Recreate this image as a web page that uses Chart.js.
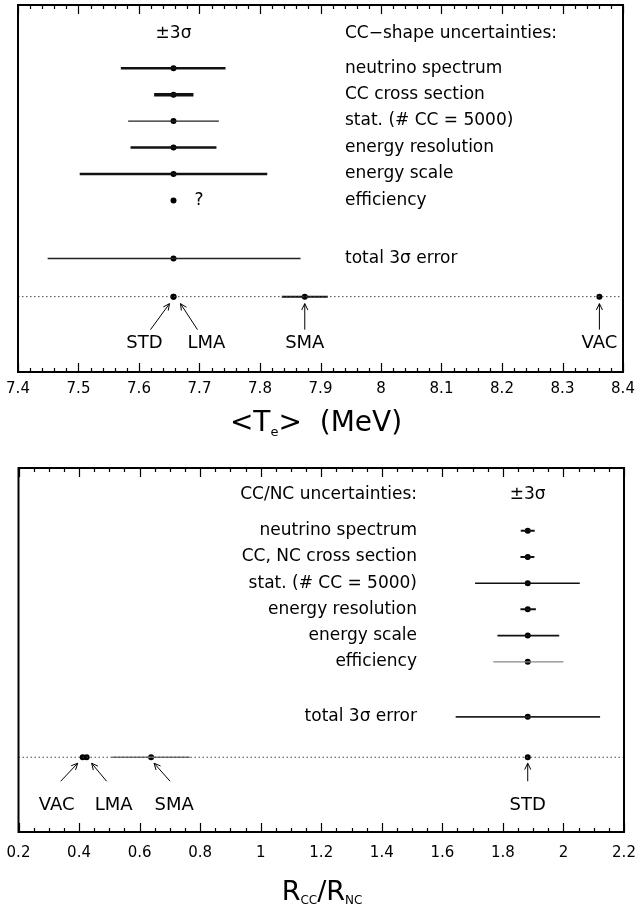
<!DOCTYPE html>
<html>
<head>
<meta charset="utf-8">
<script src="https://cdn.jsdelivr.net/npm/chart.js@4/dist/chart.umd.min.js"></script>
<style>
  body { margin: 0; background: #fff; }
  canvas { display: block; }
</style>
</head>
<body>
<canvas id="te-chart" width="636" height="456"></canvas>
<canvas id="r-chart" width="636" height="456"></canvas>
<script>
// 上图：<Te> 的各项误差
const teRows = ['neutrino spectrum', 'CC cross section', 'stat. (# CC = 5000)', 'energy resolution', 'energy scale', 'efficiency'];
const teCenter = 7.657;
const teLow = [7.570, 7.625, 7.582, 7.586, 7.502, null];
const teHigh = [7.743, 7.690, 7.732, 7.728, 7.812, null];
const teTotal = [7.449, 7.867];
const teModels = ['STD', 'LMA', 'SMA', 'VAC'];
const teModelValues = [7.657, 7.657, 7.874, 8.361];
const teModelLow = [null, null, 7.836, null];
const teModelHigh = [null, null, 7.912, null];
const teTicks = [7.4, 7.5, 7.6, 7.7, 7.8, 7.9, 8.0, 8.1, 8.2, 8.3, 8.4];

// 下图：R_CC / R_NC 的各项误差
const rRows = ['neutrino spectrum', 'CC, NC cross section', 'stat. (# CC = 5000)', 'energy resolution', 'energy scale', 'efficiency'];
const rCenter = 1.882;
const rLow = [1.859, 1.858, 1.708, 1.858, 1.782, 1.768];
const rHigh = [1.905, 1.904, 2.054, 1.909, 1.986, 2.000];
const rTotal = [1.644, 2.121];
const rModels = ['VAC', 'LMA', 'SMA', 'STD'];
const rModelValues = [0.412, 0.425, 0.638, 1.882];
const rModelLow = [null, null, 0.508, null];
const rModelHigh = [null, null, 0.766, null];
const rTicks = [0.2, 0.4, 0.6, 0.8, 1.0, 1.2, 1.4, 1.6, 1.8, 2.0, 2.2];

// 线宽/颜色（样式）
const teBarWidths = [2.5, 3.5, 1.2, 2.5, 2.5, 0];
const teBarColors = ['#111', '#111', '#222', '#111', '#111', '#111'];
const rBarWidths = [2, 2, 1.5, 2, 1.6, 1.2];
const rBarColors = ['#111', '#111', '#111', '#111', '#111', '#888'];

const FONT = '"DejaVu Sans", sans-serif';
const ROW_MODEL = 9.64;

// 画带下标的文字
function drawRich(ctx, parts, cx, cy) {
  let total = 0;
  parts.forEach(p => {
    ctx.font = p.size + 'px ' + FONT;
    p.w = ctx.measureText(p.t).width;
    total += p.w;
  });
  let x = cx - total / 2;
  ctx.textAlign = 'left';
  ctx.textBaseline = 'middle';
  parts.forEach(p => {
    ctx.font = p.size + 'px ' + FONT;
    ctx.fillText(p.t, x, cy + (p.dy || 0));
    x += p.w;
  });
}

function arrow(ctx, x1, y1, x2, y2) {
  ctx.beginPath();
  ctx.moveTo(x1, y1);
  ctx.lineTo(x2, y2);
  const a = Math.atan2(y2 - y1, x2 - x1);
  ctx.moveTo(x2, y2);
  ctx.lineTo(x2 - 7 * Math.cos(a - 0.45), y2 - 7 * Math.sin(a - 0.45));
  ctx.moveTo(x2, y2);
  ctx.lineTo(x2 - 7 * Math.cos(a + 0.45), y2 - 7 * Math.sin(a + 0.45));
  ctx.stroke();
}

// 边框、刻度、文字标注
const decorPlugin = {
  id: 'decor',
  afterDraw(chart) {
    const c = chart.options.plugins.decor;
    const ctx = chart.ctx;
    const xs = chart.scales.x, ys = chart.scales.y;
    const a = chart.chartArea;
    ctx.save();
    ctx.strokeStyle = '#000';
    ctx.fillStyle = '#000';

    // 刻度（上下两边都画）
    ctx.lineWidth = 1.2;
    const n = Math.round((xs.max - xs.min) / c.minorStep);
    for (let k = 0; k <= n; k++) {
      const px = Math.round(xs.getPixelForValue(xs.min + k * c.minorStep)) + 0.5;
      const len = k % c.minorPerMajor === 0 ? 9 : 4;
      ctx.beginPath();
      ctx.moveTo(px, a.bottom);
      ctx.lineTo(px, a.bottom - len);
      ctx.moveTo(px, a.top);
      ctx.lineTo(px, a.top + len);
      ctx.stroke();
    }

    // 边框
    ctx.lineWidth = 2;
    ctx.strokeRect(a.left, a.top, a.right - a.left, a.bottom - a.top);

    // 标题行与各行说明
    ctx.font = '17px ' + FONT;
    ctx.textBaseline = 'middle';
    const lx = c.labelX;
    ctx.textAlign = c.labelAlign;
    ctx.fillText(c.header, lx, ys.getPixelForValue(c.headerRow));
    c.rows.forEach((t, i) => ctx.fillText(t, lx, ys.getPixelForValue(i + 1)));
    ctx.fillText('total 3σ error', lx, ys.getPixelForValue(c.totalRow));
    ctx.textAlign = 'center';
    ctx.fillText('±3σ', xs.getPixelForValue(c.center), ys.getPixelForValue(c.headerRow));
    if (c.question) {
      ctx.textAlign = 'left';
      ctx.fillText('?', xs.getPixelForValue(c.center) + 21, ys.getPixelForValue(c.question));
    }

    // 模型箭头与名称
    ctx.lineWidth = 1;
    ctx.font = '18px ' + FONT;
    ctx.textAlign = 'center';
    const my = ys.getPixelForValue(ROW_MODEL);
    c.models.forEach((m, i) => {
      const px = xs.getPixelForValue(c.modelValues[i]);
      const off = c.arrowOffsets[i];
      arrow(ctx, px + off[0], my + c.arrowY[1], px + off[1], my + c.arrowY[0]);
      ctx.fillText(m, px + off[2], my + c.labelDy);
    });

    // 坐标轴名称
    drawRich(ctx, c.title, c.titleX, c.titleY);
    ctx.restore();
  }
};

function makePanel(id, p) {
  const datasets = [];
  // 参考线（虚线）
  datasets.push({
    type: 'line',
    data: [{ x: p.ticks[0], y: ROW_MODEL }, { x: p.ticks[p.ticks.length - 1], y: ROW_MODEL }],
    borderColor: '#444', borderWidth: 1, borderDash: [1.5, 2.5], pointRadius: 0
  });
  // 误差棒
  p.low.forEach((lo, i) => {
    if (lo === null) return;
    datasets.push({
      type: 'line',
      data: [{ x: lo, y: i + 1 }, { x: p.high[i], y: i + 1 }],
      borderColor: p.barColors[i], borderWidth: p.barWidths[i], pointRadius: 0
    });
  });
  datasets.push({
    type: 'line',
    data: [{ x: p.total[0], y: p.decor.totalRow }, { x: p.total[1], y: p.decor.totalRow }],
    borderColor: '#222', borderWidth: 1.6, pointRadius: 0
  });
  p.modelLow.forEach((lo, i) => {
    if (lo === null) return;
    datasets.push({
      type: 'line',
      data: [{ x: lo, y: ROW_MODEL }, { x: p.modelHigh[i], y: ROW_MODEL }],
      borderColor: p.modelBarColor, borderWidth: p.modelBarWidth, pointRadius: 0
    });
  });
  // 中心值
  const pts = p.rows.map((_, i) => ({ x: p.center, y: i + 1 }));
  pts.push({ x: p.center, y: p.decor.totalRow });
  p.modelValues.forEach(v => pts.push({ x: v, y: ROW_MODEL }));
  datasets.push({
    type: 'scatter',
    data: pts,
    pointRadius: 3, pointBackgroundColor: '#000', pointBorderWidth: 0
  });

  return new Chart(document.getElementById(id).getContext('2d'), {
    type: 'scatter',
    data: { datasets },
    plugins: [decorPlugin],
    options: {
      responsive: false,
      animation: false,
      events: [],
      layout: { padding: p.padding },
      plugins: {
        legend: { display: false },
        tooltip: { enabled: false },
        decor: p.decor
      },
      scales: {
        x: {
          type: 'linear',
          min: p.ticks[0],
          max: p.ticks[p.ticks.length - 1],
          afterBuildTicks: s => { s.ticks = p.ticks.map(v => ({ value: v })); },
          afterFit: s => {
            s.height = p.axisHeight;
            s.paddingLeft = 0;
            s.paddingRight = 0;
          },
          grid: { display: false, drawTicks: false },
          border: { display: false },
          ticks: {
            padding: p.tickPad,
            color: '#000',
            font: { family: FONT, size: 15 },
            maxRotation: 0,
            autoSkip: false,
            callback: v => String(parseFloat(Number(v).toFixed(2)))
          }
        },
        y: { type: 'linear', display: false, reverse: true, min: -1.39, max: 12.49 }
      }
    }
  });
}

makePanel('te-chart', {
  rows: teRows, center: teCenter, low: teLow, high: teHigh, total: teTotal,
  modelValues: teModelValues, modelLow: teModelLow, modelHigh: teModelHigh,
  ticks: teTicks, barWidths: teBarWidths, barColors: teBarColors,
  modelBarColor: '#111', modelBarWidth: 2,
  padding: { top: 5, left: 18, right: 13, bottom: 0 },
  axisHeight: 84, tickPad: 8,
  decor: {
    rows: teRows, center: teCenter, header: 'CC−shape uncertainties:', headerRow: -0.3,
    totalRow: 8.2,
    labelX: 345, labelAlign: 'left', question: 6,
    minorStep: 0.02, minorPerMajor: 5,
    models: teModels, modelValues: teModelValues,
    arrowOffsets: [[-23, -4, -29], [24, 7, 33], [0, 0, 0], [0, 0, 0]],
    arrowY: [7, 33], labelDy: 47,
    title: [{ t: '<T', size: 28 }, { t: 'e', size: 13, dy: 9 }, { t: '>  (MeV)', size: 28 }],
    titleX: 316, titleY: 424
  }
});

makePanel('r-chart', {
  rows: rRows, center: rCenter, low: rLow, high: rHigh, total: rTotal,
  modelValues: rModelValues, modelLow: rModelLow, modelHigh: rModelHigh,
  ticks: rTicks, barWidths: rBarWidths, barColors: rBarColors,
  modelBarColor: '#777', modelBarWidth: 1.4,
  padding: { top: 12, left: 18.5, right: 12, bottom: 0 },
  axisHeight: 80, tickPad: 12,
  decor: {
    rows: rRows, center: rCenter, header: 'CC/NC uncertainties:', headerRow: -0.36,
    totalRow: 8.1,
    labelX: 417, labelAlign: 'right', question: null,
    minorStep: 0.05, minorPerMajor: 4,
    models: rModels, modelValues: rModelValues,
    arrowOffsets: [[-22, -5, -26], [20, 5, 27], [19, 3, 23], [0, 0, 0]],
    arrowY: [6, 24], labelDy: 48,
    title: [{ t: 'R', size: 27 }, { t: 'CC', size: 12, dy: 8 }, { t: '/R', size: 27 }, { t: 'NC', size: 12, dy: 8 }],
    titleX: 322, titleY: 437
  }
});
</script>
</body>
</html>
